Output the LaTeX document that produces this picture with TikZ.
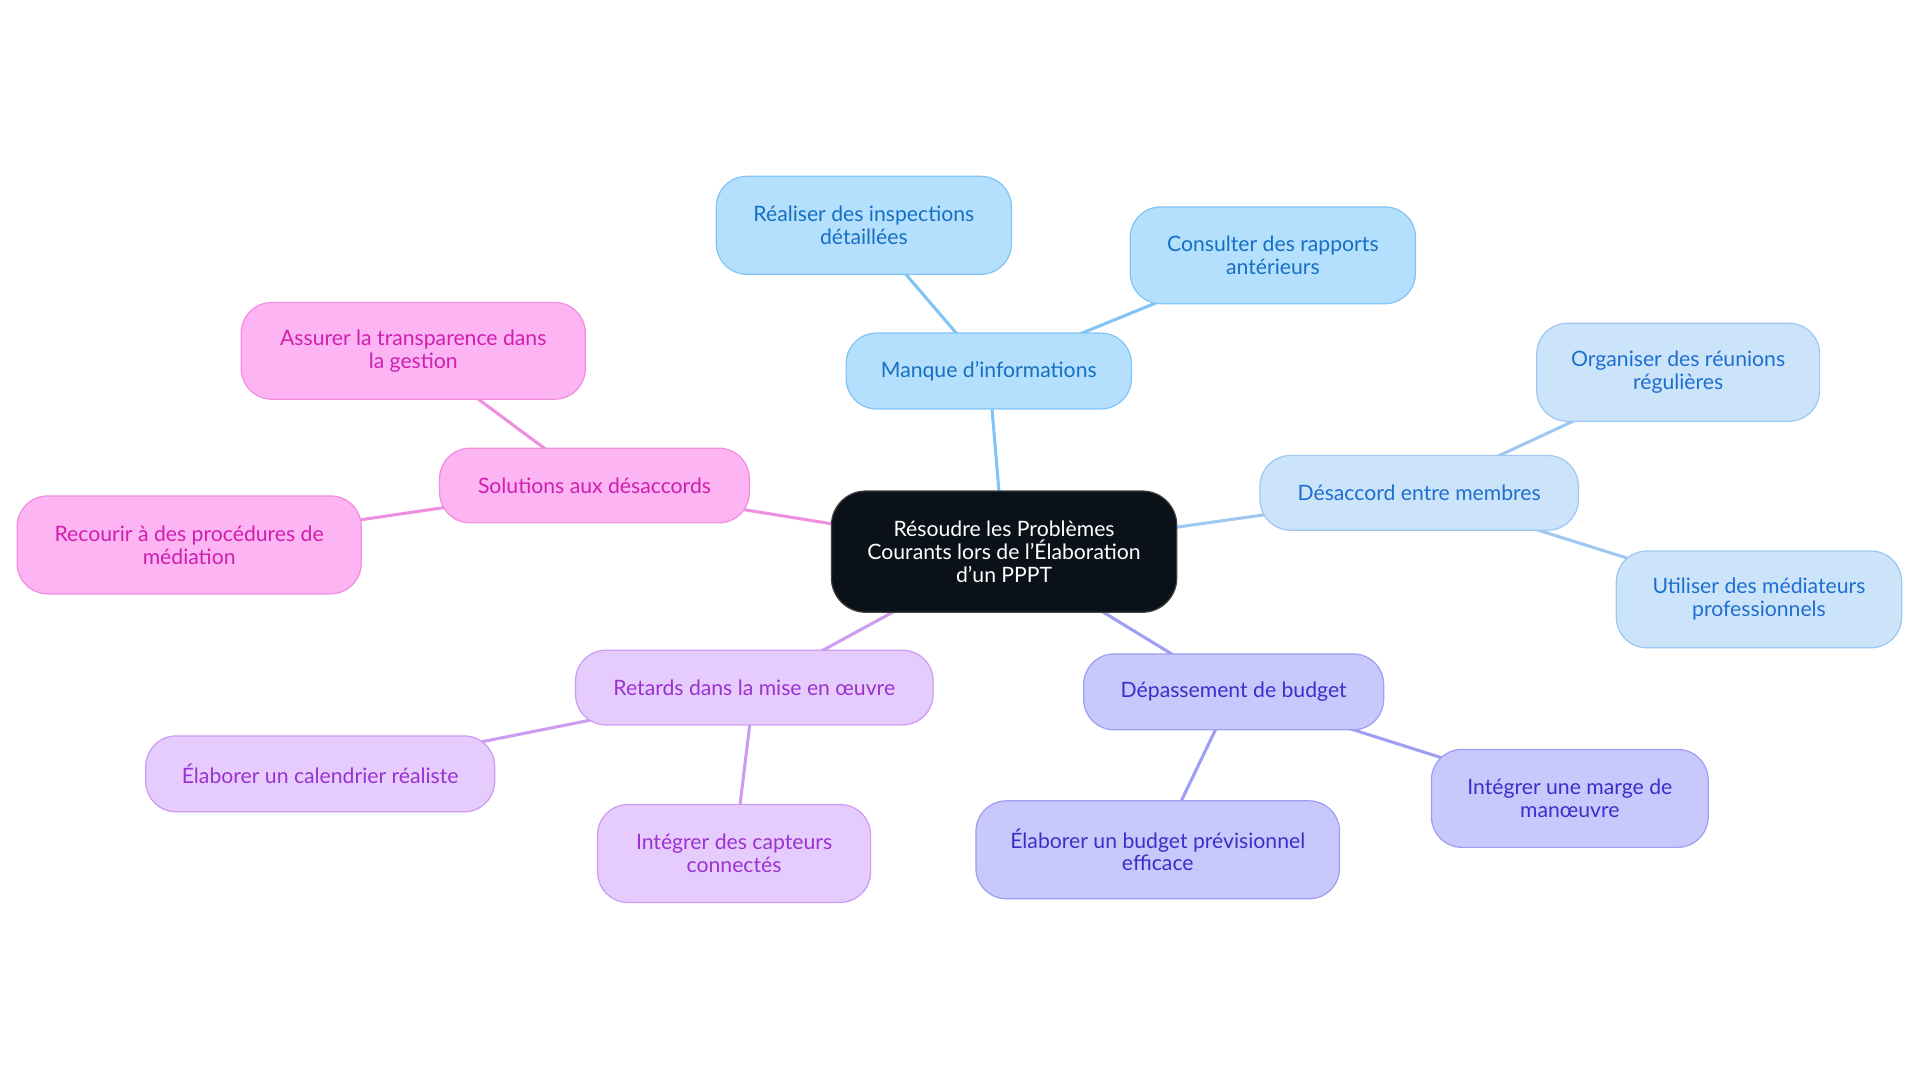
\documentclass[tikz,border=0pt]{standalone}
\usepackage{fontspec}
\setmainfont{Lato}
\usetikzlibrary{backgrounds}
\definecolor{cfill}{HTML}{0B1119}
\definecolor{bAfill}{HTML}{B4E0FD}\definecolor{bAdraw}{HTML}{82C4F4}\definecolor{bAtext}{HTML}{1670C2}
\definecolor{bBfill}{HTML}{CCE4FA}\definecolor{bBdraw}{HTML}{9EC8F2}\definecolor{bBtext}{HTML}{1E6ED0}
\definecolor{inFill}{HTML}{C8C8FD}\definecolor{inDraw}{HTML}{9E9EF2}\definecolor{inText}{HTML}{3A30C8}
\definecolor{puFill}{HTML}{E6CBFD}\definecolor{puDraw}{HTML}{CC9CF2}\definecolor{puText}{HTML}{9A32D0}
\definecolor{piFill}{HTML}{FCB4F3}\definecolor{piDraw}{HTML}{F08EE0}\definecolor{piText}{HTML}{D01EB0}
\tikzset{
  box/.style={rectangle, rounded corners=25pt, inner sep=0pt, align=center, line width=1pt,
    font=\fontsize{17.3}{18.6}\selectfont},
  centre/.style={box, rounded corners=28pt, fill=cfill, draw=black!75, text=white},
  blueA/.style={box, fill=bAfill, draw=bAdraw, text=bAtext},
  blueB/.style={box, fill=bBfill, draw=bBdraw, text=bBtext},
  indig/.style={box, fill=inFill, draw=inDraw, text=inText},
  purp/.style={box, fill=puFill, draw=puDraw, text=puText},
  pinkb/.style={box, fill=piFill, draw=piDraw, text=piText},
  edge/.style={line width=2.5pt},
  sz/.style 2 args={minimum width=#1pt, minimum height=#2pt}
}
\begin{document}
\begin{tikzpicture}[x=1pt,y=-1pt]
\useasboundingbox (0,0) rectangle (1568,884);
\node[centre, sz={282}{99}] (c) at (820,450.5) {Résoudre les Problèmes\\Courants lors de l'Élaboration\\d'un PPPT};
\node[blueA, sz={233}{62}] (m) at (807.5,303) {Manque d'informations};
\node[blueA, sz={241}{80}] (m1) at (705.5,184) {Réaliser des inspections\\détaillées};
\node[blueA, sz={233}{79}] (m2) at (1039.5,208.5) {Consulter des rapports\\antérieurs};
\node[blueB, sz={260}{61}] (d) at (1159,402.5) {Désaccord entre membres};
\node[blueB, sz={231}{80}] (d1) at (1370.5,304) {Organiser des réunions\\régulières};
\node[blueB, sz={233}{79}] (d2) at (1436.5,489.5) {Utiliser des médiateurs\\professionnels};
\node[indig, sz={245}{62}] (b) at (1007.5,565) {Dépassement de budget};
\node[indig, sz={297}{80}] (b1) at (945.5,694) {Élaborer un budget prévisionnel\\efficace};
\node[indig, sz={226}{80}] (b2) at (1282,652) {Intégrer une marge de\\manœuvre};
\node[purp, sz={292}{61}] (r) at (616,561.5) {Retards dans la mise en œuvre};
\node[purp, sz={285}{62}] (r1) at (261.5,632) {Élaborer un calendrier réaliste};
\node[purp, sz={223}{80}] (r2) at (599.5,697) {Intégrer des capteurs\\connectés};
\node[pinkb, sz={253}{61}] (s) at (485.5,396.5) {Solutions aux désaccords};
\node[pinkb, sz={281}{79}] (s1) at (337.5,286.5) {Assurer la transparence dans\\la gestion};
\node[pinkb, sz={281}{80}] (s2) at (154.5,445) {Recourir à des procédures de\\médiation};
\begin{scope}[on background layer]
\draw[edge, bAdraw] (c.center) -- (m.center); \draw[edge, bAdraw] (m.center) -- (m1.center); \draw[edge, bAdraw] (m.center) -- (m2.center);
\draw[edge, bBdraw] (c.center) -- (d.center); \draw[edge, bBdraw] (d.center) -- (d1.center); \draw[edge, bBdraw] (d.center) -- (d2.center);
\draw[edge, inDraw] (c.center) -- (b.center); \draw[edge, inDraw] (b.center) -- (b1.center); \draw[edge, inDraw] (b.center) -- (b2.center);
\draw[edge, puDraw] (c.center) -- (r.center); \draw[edge, puDraw] (r.center) -- (r1.center); \draw[edge, puDraw] (r.center) -- (r2.center);
\draw[edge, piDraw] (c.center) -- (s.center); \draw[edge, piDraw] (s.center) -- (s1.center); \draw[edge, piDraw] (s.center) -- (s2.center);
\end{scope}
\end{tikzpicture}
\end{document}
